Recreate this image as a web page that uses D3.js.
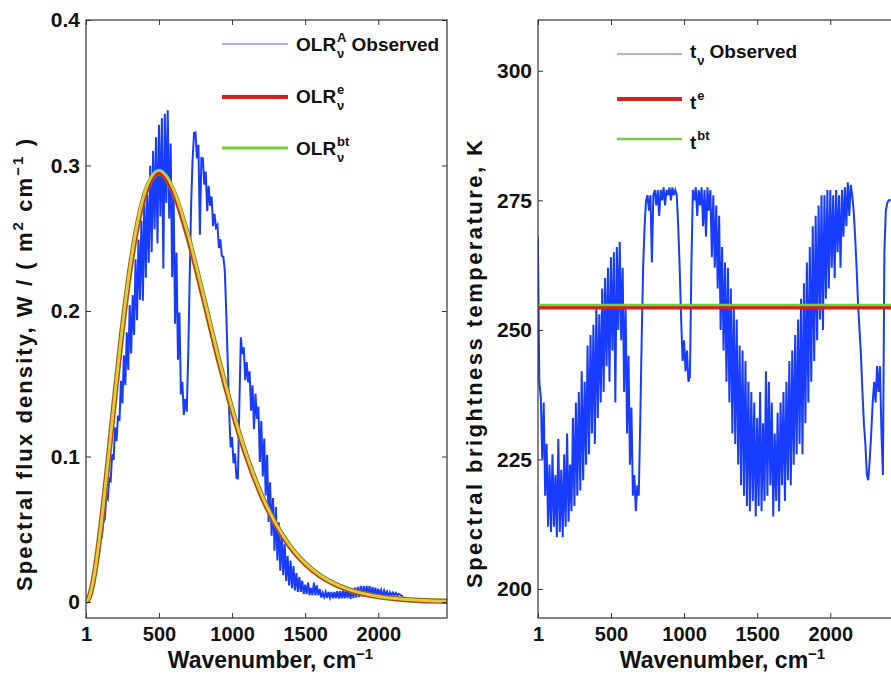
<!DOCTYPE html>
<html><head><meta charset="utf-8">
<script src="https://cdn.jsdelivr.net/npm/d3@7/dist/d3.min.js"></script>
<style>body{margin:0;background:#fff}text{font-family:"Liberation Sans",Arial,sans-serif;font-weight:bold;fill:#111}</style>
</head><body>
<script>
// ---------- data ----------
const wavenumberTicks = [1, 500, 1000, 1500, 2000];
const fluxTicks = [0, 0.1, 0.2, 0.3, 0.4];
const fluxTickLabels = ["0", "0.1", "0.2", "0.3", "0.4"];
const tempTicks = [200, 225, 250, 275, 300];

// observed spectra sampled every 10 cm^-1 starting at 0 cm^-1
const obsStart = 0, obsStep = 10;
const olrObserved = [
0,0.0006,0.0023,0.0048,0.0087,0.0120,0.0176,0.0211,0.0285,0.0322,
0.0420,0.0449,0.0550,0.0572,0.0728,0.0709,0.0848,0.0834,0.1017,0.0976,
0.1200,0.1107,0.1282,0.1244,0.1521,0.1364,0.1695,0.1490,0.1853,0.1595,
0.2041,0.1708,0.2110,0.1835,0.2355,0.1937,0.2492,0.2078,0.2622,0.2071,
0.2799,0.2228,0.2801,0.2332,0.2998,0.2404,0.3100,0.2562,0.3194,0.2464,
0.3280,0.2649,0.3324,0.2292,0.3355,0.2743,0.3380,0.2635,0.3151,0.2233,
0.2833,0.1912,0.2402,0.1665,0.1989,0.1427,0.1514,0.1286,0.1394,0.1308,
0.1693,0.2214,0.2732,0.3038,0.3224,0.3228,0.3049,0.3142,0.2525,0.3052,
0.3050,0.2868,0.2958,0.2686,0.2861,0.2723,0.2787,0.2583,0.2667,0.2574,
0.2591,0.2433,0.2493,0.2379,0.2373,0.2283,0.1999,0.1668,0.1314,0.1062,
0.1134,0.0954,0.1021,0.0852,0.0849,0.1362,0.1819,0.1704,0.1750,0.1524,
0.1649,0.1510,0.1585,0.1314,0.1490,0.1188,0.1432,0.1259,0.1342,0.0963,
0.1243,0.0863,0.1123,0.0732,0.1012,0.0550,0.0823,0.0456,0.0715,0.0352,
0.0652,0.0286,0.0547,0.0215,0.0469,0.0184,0.0400,0.0145,0.0318,0.0113,
0.0285,0.0095,0.0247,0.0080,0.0199,0.0070,0.0171,0.0069,0.0146,0.0055,
0.0120,0.0055,0.0134,0.0048,0.0097,0.0048,0.0133,0.0046,0.0114,0.0046,
0.0089,0.0031,0.0063,0.0033,0.0069,0.0027,0.0069,0.0031,0.0069,0.0025,
0.0069,0.0027,0.0075,0.0024,0.0075,0.0026,0.0078,0.0026,0.0081,0.0027,
0.0088,0.0022,0.0092,0.0027,0.0099,0.0030,0.0103,0.0033,0.0111,0.0037,
0.0111,0.0040,0.0111,0.0044,0.0111,0.0037,0.0103,0.0044,0.0099,0.0045,
0.0092,0.0049,0.0082,0.0041,0.0079,0.0047,0.0071,0.0038,0.0068,0.0046,
0.0065,0.0046,0.0062,0.0046,0.0057,0.0050,0.0043,0.0033
];
const tObserved = [
268,240,237,225,236,218,228,212,224,211,
226,212,222,210,229,211,223,210,226,212,
230,213,224,215,233,216,236,218,238,219,
242,221,240,224,247,226,249,230,251,228,
255,233,253,236,258,238,260,243,262,240,
264,246,265,236,266,250,267,248,262,238,
255,230,245,224,235,218,222,215,220,218,
232,248,262,270,275,276,273,276,263,276,
277,274,277,272,277,275,277.5,274,277,276,
277.5,275,277.5,276,277,276,270,262,252,244,
248,242,246,240,241,262,277,275,277.5,272,
277,274,277.5,270,277,268,277.5,273,277,264,
276,262,274,258,272,250,266,246,263,240,
262,236,258,230,255,228,252,224,247,220,
246,218,244,216,240,215,238,217,236,214,
233,216,238,215,232,217,242,218,240,220,
236,214,230,217,234,215,236,220,238,217,
240,221,244,220,246,224,249,226,252,228,
256,226,259,232,263,236,266,240,270,244,
272,248,274,252,276,250,276,256,277,258,
277,262,276,260,277,265,276,262,277,268,
277.5,270,278.5,272,278,276,273,268,262,255,
250,245,238,232,228,222,221,225,230,236,
240,236,243,238,243,230,222,265,273,274.5,
275,275,275,275,275,275,275,275
];

// smooth curves
const smoothWavenumber = [1,25,50,75,100,150,200,250,300,350,400,450,500,550,600,700,800,900,1000,1100,1200,1300,1400,1500,1600,1700,1800,2000,2200,2500];
const olrE  = [0.0000,0.0039,0.0143,0.0299,0.0492,0.0947,0.1428,0.1882,0.2271,0.2576,0.2789,0.2909,0.2950,0.2912,0.2817,0.2504,0.2108,0.1696,0.1320,0.0997,0.0735,0.0531,0.0376,0.0263,0.0181,0.0124,0.0083,0.0037,0.0016,0.0004];
const olrBt = [0.0000,0.0039,0.0144,0.0301,0.0495,0.0953,0.1437,0.1894,0.2285,0.2592,0.2806,0.2927,0.2968,0.2930,0.2835,0.2521,0.2123,0.1709,0.1331,0.1006,0.0742,0.0537,0.0381,0.0267,0.0184,0.0126,0.0085,0.0038,0.0017,0.0004];
const tE = 254.3, tBt = 254.8;
const lineRange = [1, 2500];

// ---------- drawing ----------
const W = 891, H = 684;
const C = {obs:"#183cff", obsLeg:"#5468d8", red:"#d81e1e", green:"#6fd03a"};
const svg = d3.select("body").append("svg").attr("width", W).attr("height", H);
svg.append("rect").attr("width", W).attr("height", H).attr("fill", "#fff");

const panels = [
  {id:"L", x0:86, x1:447, y0:20, y1:618, ydom:[-0.011,0.4], yticks:fluxTicks, ylabels:fluxTickLabels},
  {id:"R", x0:538, x1:899, y0:20, y1:618, ydom:[194.4,309.8], yticks:tempTicks, ylabels:tempTicks.map(String)}
];
panels.forEach(p => {
  p.x = d3.scaleLinear().domain([1, 2470]).range([p.x0, p.x1]);
  p.y = d3.scaleLinear().domain(p.ydom).range([p.y1, p.y0]);
  svg.append("clipPath").attr("id", "clip" + p.id).append("rect")
    .attr("x", p.x0).attr("y", p.y0).attr("width", p.x1 - p.x0).attr("height", p.y1 - p.y0);
  p.g = svg.append("g").attr("clip-path", `url(#clip${p.id})`).style("isolation", "isolate");
});

function styleAxis(g, size) {
  g.select(".domain").remove();
  g.selectAll("line").attr("stroke", "#333");
  g.selectAll("text").style("font-size", size + "px").attr("fill", "#111");
}
panels.forEach(p => {
  svg.append("g").attr("transform", `translate(0,${p.y1})`)
    .call(d3.axisBottom(p.x).tickValues(wavenumberTicks).tickSize(-5).tickPadding(9).tickFormat(d3.format("d")))
    .call(g => styleAxis(g, 20));
  svg.append("g").attr("transform", `translate(0,${p.y0})`)
    .call(d3.axisTop(p.x).tickValues(wavenumberTicks).tickSize(-5).tickFormat(""))
    .call(g => styleAxis(g, 20));
  svg.append("g").attr("transform", `translate(${p.x0},0)`)
    .call(d3.axisLeft(p.y).tickValues(p.yticks).tickSize(-5).tickPadding(6).tickFormat((d, i) => p.ylabels[i]))
    .call(g => styleAxis(g, 21));
  svg.append("g").attr("transform", `translate(${p.x1},0)`)
    .call(d3.axisRight(p.y).tickValues(p.yticks).tickSize(-5).tickFormat(""))
    .call(g => styleAxis(g, 20));
  svg.append("rect").attr("x", p.x0).attr("y", p.y0).attr("width", p.x1 - p.x0).attr("height", p.y1 - p.y0)
    .attr("fill", "none").attr("stroke", "#333").attr("stroke-width", 1.2);
});

const [PL, PR] = panels;
// left panel
PL.g.append("path").datum(olrObserved)
  .attr("d", d3.line().x((d, i) => PL.x(obsStart + i * obsStep)).y(d => PL.y(d)))
  .attr("fill", "none").attr("stroke", C.obs).attr("stroke-width", 2);
const smoothLine = arr => d3.line().curve(d3.curveMonotoneX).x((d, i) => PL.x(smoothWavenumber[i])).y(d => PL.y(d))(arr);
PL.g.append("path").attr("d", smoothLine(olrE)).attr("fill", "none").attr("stroke", "#8a7a18").attr("stroke-width", 5.5);
PL.g.append("path").attr("d", smoothLine(olrE)).attr("fill", "none").attr("stroke", C.red).attr("stroke-width", 4);
PL.g.append("path").attr("d", smoothLine(olrBt)).attr("fill", "none").attr("stroke", C.green)
  .attr("stroke-width", 3).style("mix-blend-mode", "lighten");

// right panel
PR.g.append("path").datum(tObserved)
  .attr("d", d3.line().x((d, i) => PR.x(obsStart + i * obsStep)).y(d => PR.y(d)))
  .attr("fill", "none").attr("stroke", C.obs).attr("stroke-width", 2);
PR.g.append("line").attr("x1", PR.x(lineRange[0])).attr("x2", PR.x(lineRange[1]))
  .attr("y1", PR.y(tE)).attr("y2", PR.y(tE)).attr("stroke", C.red).attr("stroke-width", 4);
PR.g.append("line").attr("x1", PR.x(lineRange[0])).attr("x2", PR.x(lineRange[1]))
  .attr("y1", PR.y(tBt)).attr("y2", PR.y(tBt)).attr("stroke", C.green).attr("stroke-width", 2.5);

// ---------- legends ----------
function rich(x, y, base, sup, sub, after, size) {
  const t = svg.append("text").attr("x", x).attr("y", y).style("font-size", size + "px").text(base);
  const w = t.node().getComputedTextLength();
  let extra = 0;
  if (sup) {
    const s = svg.append("text").attr("x", x + w + 1).attr("y", y - 9).style("font-size", (size - 6) + "px").text(sup);
    extra = Math.max(extra, s.node().getComputedTextLength());
  }
  if (sub) {
    const s = svg.append("text").attr("x", x + w + 1).attr("y", y + 7).style("font-size", (size - 6) + "px").text(sub);
    extra = Math.max(extra, s.node().getComputedTextLength());
  }
  if (after) svg.append("text").attr("x", x + w + extra + 6).attr("y", y).style("font-size", size + "px").text(after);
}
function legLine(x1, x2, y, color, width) {
  svg.append("line").attr("x1", x1).attr("x2", x2).attr("y1", y).attr("y2", y).attr("stroke", color).attr("stroke-width", width);
}
legLine(222, 288, 44, C.obsLeg, 1.2); rich(296, 51, "OLR", "A", "ν", "Observed", 19);
legLine(222, 288, 97, C.red, 4);      rich(296, 103, "OLR", "e", "ν", null, 19);
legLine(222, 288, 148, C.green, 3);   rich(296, 155, "OLR", "bt", "ν", null, 19);

legLine(617, 682, 54, C.obsLeg, 1.2); rich(690, 58, "t", null, "ν", "Observed", 19);
legLine(617, 682, 99, C.red, 4);      rich(690, 109, "t", "e", null, null, 19);
legLine(617, 682, 139, C.green, 2.5); rich(690, 149, "t", "bt", null, null, 19);

// ---------- axis titles ----------
function xTitle(cx) {
  const t = svg.append("text").attr("x", cx).attr("y", 668).attr("text-anchor", "middle").style("font-size", "23px");
  t.append("tspan").text("Wavenumber, cm");
  t.append("tspan").attr("dy", -9).style("font-size", "15px").text("−1");
}
xTitle((PL.x0 + PL.x1) / 2 + 4);
xTitle((PR.x0 + PR.x1) / 2 + 4);

const yl = svg.append("text").attr("transform", "translate(32,365) rotate(-90)").attr("text-anchor", "middle")
  .attr("textLength", 452).attr("lengthAdjust", "spacing").style("font-size", "22px");
yl.append("tspan").text("Spectral flux density, W / ( m");
yl.append("tspan").attr("dy", -9).style("font-size", "15px").text("2");
yl.append("tspan").attr("dy", 9).text(" cm");
yl.append("tspan").attr("dy", -9).style("font-size", "15px").text("−1");
yl.append("tspan").attr("dy", 9).text(" )");

svg.append("text").attr("transform", "translate(482,364) rotate(-90)").attr("text-anchor", "middle")
  .attr("textLength", 448).attr("lengthAdjust", "spacing")
  .style("font-size", "22px").text("Spectral brightness temperature, K");
</script>
</body></html>
